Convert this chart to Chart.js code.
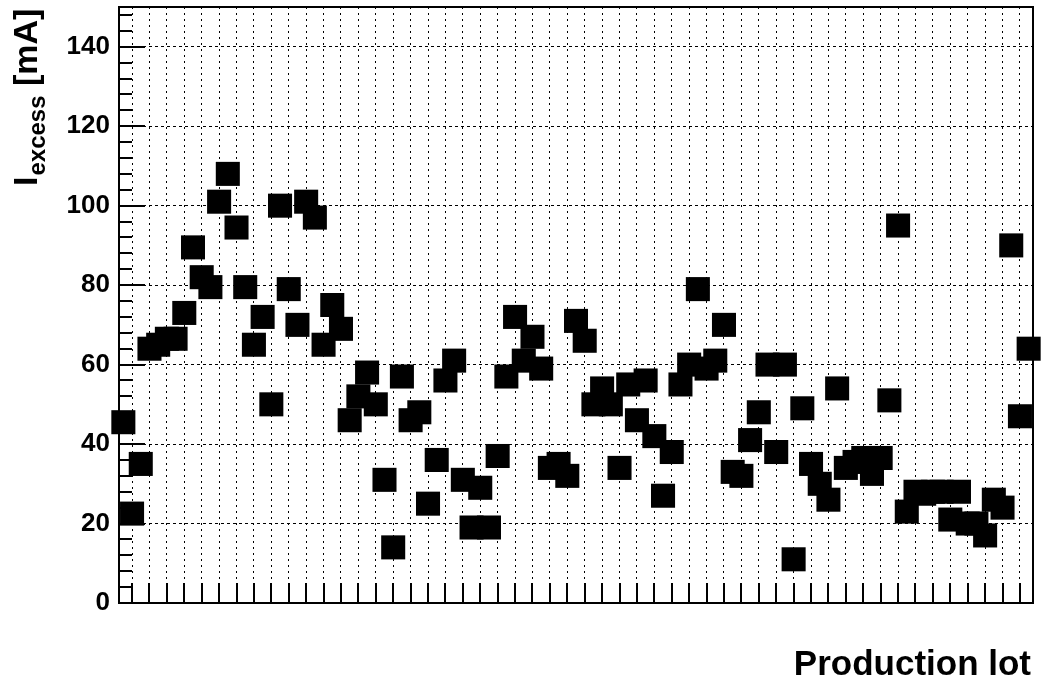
<!DOCTYPE html>
<html><head><meta charset="utf-8">
<script src="https://cdn.jsdelivr.net/npm/chart.js@4.4.0/dist/chart.umd.min.js"></script>
<style>html,body{margin:0;padding:0;background:#fff;} canvas{display:block;}</style>
</head><body>
<canvas id="c" width="1042" height="684"></canvas>
<script>
const lots = [1,2,3,4,5,6,7,8,9,10,11,12,13,14,15,16,17,18,19,20,
  21,22,23,24,25,26,27,28,29,30,31,32,33,34,35,36,37,38,39,40,
  41,42,43,44,45,46,47,48,49,50,51,52,53,54,55,56,57,58,59,60,
  61,62,63,64,65,66,67,68,69,70,71,72,73,74,75,76,77,78,79,80,
  81,82,83,84,85,86,87,88,89,90,91,92,93,94,95,96,97,98,99,100,
  101,102,103,104,105];
const excessCurrent = [45.5,22.5,35,64,65,66.5,66.5,73,89.5,82,
  79.5,101,108,94.5,79.5,65,72,50,100,79,
  70,101,97,65,75,69,46,52,58,50,
  31,14,57,46,48,25,36,56,61,31,
  19,29,19,37,57,72,61,67,59,34,
  35,32,71,66,50,54,50,34,55,46,
  56,42,27,38,55,60,79,59,61,70,
  33,32,41,48,60,38,60,11,49,35,
  30,26,54,34,35.5,36.5,32.5,36.5,51,95,
  23,28,27.5,28,28,21,28,20,20,17,
  26,24,90,47,64];
const yTickValues = [0,20,40,60,80,100,120,140];
const xTitle = 'Production lot';
const yTitleMain = 'I';
const yTitleSub = 'excess';
const yTitleUnit = ' [mA]';

const FONT = '"Liberation Sans", Arial, Helvetica, sans-serif';

const rootFrame = {
  id: 'rootFrame',
  beforeDatasetsDraw(chart) {
    const {ctx, chartArea: a, scales: {x, y}} = chart;
    ctx.save();
    ctx.strokeStyle = '#000';
    ctx.lineWidth = 2;
    ctx.beginPath();
    for (let v = 0; v <= 150; v += 4) {
      const py = Math.round(y.getPixelForValue(v));
      const len = (v % 20 === 0) ? 26 : 13;
      ctx.moveTo(a.left, py);
      ctx.lineTo(a.left + len, py);
    }
    x.ticks.forEach(t => {
      const px = Math.round(x.getPixelForValue(t.value));
      ctx.moveTo(px, a.bottom);
      ctx.lineTo(px, a.bottom - 20);
    });
    ctx.stroke();
    ctx.strokeRect(a.left, a.top, a.right - a.left, a.bottom - a.top);
    ctx.restore();
  },
  afterDraw(chart) {
    const {ctx} = chart;
    ctx.save();
    ctx.fillStyle = '#000';
    ctx.textBaseline = 'alphabetic';
    ctx.font = 'bold 35px ' + FONT;
    ctx.textAlign = 'right';
    ctx.fillText(xTitle, 1031, 675);
    ctx.translate(37, 186);
    ctx.rotate(-Math.PI / 2);
    ctx.textAlign = 'left';
    ctx.font = 'bold 34px ' + FONT;
    ctx.fillText(yTitleMain, 0, 0);
    const w1 = ctx.measureText(yTitleMain).width + 1;
    ctx.font = 'bold 24px ' + FONT;
    ctx.fillText(yTitleSub, w1, 8);
    const w2 = ctx.measureText(yTitleSub).width;
    ctx.font = 'bold 34px ' + FONT;
    ctx.fillText(yTitleUnit, w1 + w2, 0);
    ctx.restore();
  }
};

new Chart(document.getElementById('c'), {
  type: 'scatter',
  data: {
    datasets: [{
      data: lots.map((l, i) => ({x: l, y: excessCurrent[i]})),
      pointStyle: 'rect',
      pointRadius: 17,
      pointHoverRadius: 17,
      pointBackgroundColor: '#000',
      pointBorderWidth: 0,
      showLine: false,
      clip: false
    }]
  },
  options: {
    responsive: false,
    animation: false,
    devicePixelRatio: 1,
    layout: {autoPadding: false, padding: {left: 0, top: 7, right: 9, bottom: 0}},
    plugins: {legend: {display: false}, tooltip: {enabled: false}},
    scales: {
      x: {
        type: 'linear',
        min: 0.5, max: 105.5,
        afterBuildTicks: s => { s.ticks = lots.filter(l => l % 2 === 0).map(v => ({value: v})); },
        afterFit: s => { s.height = 81; s.paddingLeft = 0; s.paddingRight = 0; },
        ticks: {display: false},
        grid: {color: '#000', lineWidth: 1, drawTicks: false},
        border: {display: false, dash: [2, 4]}
      },
      y: {
        min: 0, max: 150,
        afterBuildTicks: s => { s.ticks = yTickValues.map(v => ({value: v})); },
        afterFit: s => { s.width = 119; s.paddingTop = 0; s.paddingBottom = 0; },
        ticks: {color: '#000', padding: 9, font: {family: FONT, size: 26, weight: 'bold'}},
        grid: {color: '#000', lineWidth: 1, drawTicks: false},
        border: {display: false, dash: [3, 3]}
      }
    }
  },
  plugins: [rootFrame]
});
</script>
</body></html>
